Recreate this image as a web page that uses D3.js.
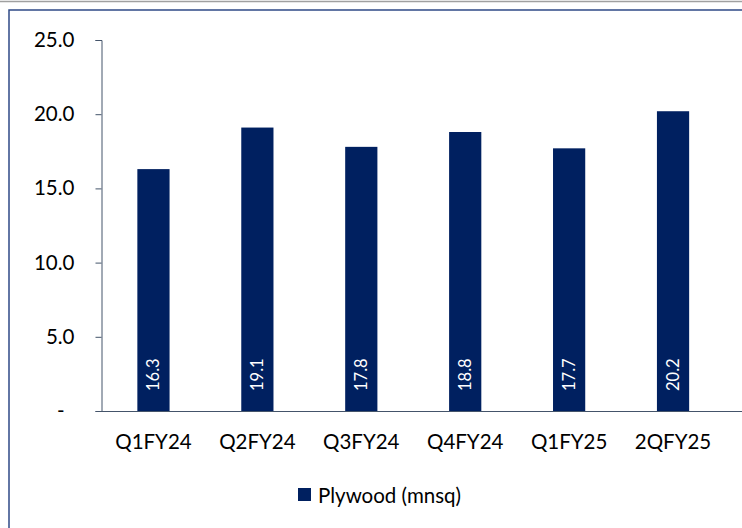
<!DOCTYPE html>
<html>
<head>
<meta charset="utf-8">
<script src="https://cdn.jsdelivr.net/npm/d3@7"></script>
<style>
  body { margin: 0; background: #fff; }
  svg { display: block; font-family: Lato, "Open Sans", sans-serif; }
</style>
</head>
<body>
<svg width="742" height="528"></svg>
<script>
// данные графика
const categories = ["Q1FY24", "Q2FY24", "Q3FY24", "Q4FY24", "Q1FY25", "2QFY25"];
const plywood = [16.3, 19.1, 17.8, 18.8, 17.7, 20.2];
const yTicks = [0, 5, 10, 15, 20, 25];
const seriesName = "Plywood (mnsq)";

const svg = d3.select("svg");

// рамки
svg.append("line")
    .attr("x1", 0).attr("x2", 742).attr("y1", 1.5).attr("y2", 1.5)
    .style("stroke", "#a0a0a0").style("stroke-width", 1.5);
svg.append("rect")
    .attr("x", 9).attr("y", 10).attr("width", 760).attr("height", 560)
    .style("fill", "none").style("stroke", "#2f4a86").style("stroke-width", 1.5);

const area = { left: 101.5, right: 725, top: 40, bottom: 411 };

let scX = d3.scaleBand()
    .domain(categories)
    .range([area.left, area.right])
    .paddingInner(0.69).paddingOuter(0.345);

let scY = d3.scaleLinear()
    .domain([0, 25])
    .range([area.bottom, area.top]);

// ось Y
let axisY = d3.axisLeft(scY)
    .tickValues(yTicks)
    .tickSize(6)
    .tickFormat(d => d === 0 ? "-" : d3.format(".1f")(d));

let gy = svg.append("g")
    .attr("transform", `translate(${area.left},0)`)
    .call(axisY);
gy.select(".domain").style("stroke", "#44546a");
gy.selectAll(".tick line").style("stroke", "#44546a");
gy.selectAll("text")
    .attr("x", -27)
    .style("font-size", "20.5px")
    .style("fill", "#000")
    .style("font-family", "Lato, sans-serif");
gy.selectAll(".tick").filter(d => d === 0).select("text").attr("x", -37);

// бары
svg.selectAll(".bar")
    .data(plywood)
    .enter()
    .append("rect")
    .attr("x", (d, i) => scX(categories[i]))
    .attr("y", d => scY(d))
    .attr("width", scX.bandwidth())
    .attr("height", d => scY(0) - scY(d))
    .style("fill", "#002060");

// ось X (линия)
svg.append("line")
    .attr("x1", area.left).attr("x2", area.right + 20)
    .attr("y1", area.bottom + 0.5).attr("y2", area.bottom + 0.5)
    .style("stroke", "#44546a").style("stroke-width", 1.2);

// подписи категорий
svg.selectAll(".xlab")
    .data(categories)
    .enter()
    .append("text")
    .attr("x", d => scX(d) + scX.bandwidth() / 2)
    .attr("y", 449)
    .attr("text-anchor", "middle")
    .style("font-size", "20.5px")
    .text(d => d);

// значения в барах
svg.selectAll(".vlab")
    .data(plywood)
    .enter()
    .append("text")
    .attr("transform", (d, i) => `translate(${scX(categories[i]) + scX.bandwidth() / 2 + 6},${area.bottom - 20}) rotate(-90)`)
    .attr("text-anchor", "start")
    .style("font-size", "16.5px")
    .style("fill", "#fff")
    .text(d => d.toFixed(1));

// легенда
svg.append("rect")
    .attr("x", 298).attr("y", 488).attr("width", 13).attr("height", 13)
    .style("fill", "#002060");
svg.append("text")
    .attr("x", 318).attr("y", 503)
    .style("font-size", "20.5px")
    .text(seriesName);
</script>
</body>
</html>
